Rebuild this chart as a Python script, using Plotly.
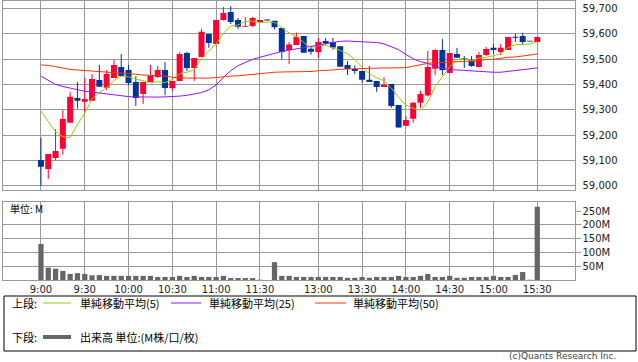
import plotly.graph_objects as go

W, H = 638, 362

times = ["9:00","9:05","9:10","9:15","9:20","9:25","9:30","9:35","9:40","9:45","9:50","9:55",
         "10:00","10:05","10:10","10:15","10:20","10:25","10:30","10:35","10:40","10:45","10:50","10:55",
         "11:00","11:05","11:10","11:15","11:20","11:25","11:30","12:25",
         "12:30","12:35","12:40","12:45","12:50","12:55","13:00","13:05","13:10","13:15","13:20","13:25",
         "13:30","13:35","13:40","13:45","13:50","13:55","14:00","14:05","14:10","14:15","14:20","14:25",
         "14:30","14:35","14:40","14:45","14:50","14:55","15:00","15:05","15:10","15:15","15:20","15:25","15:30"]

tick_labels = ["9:00","9:30","10:00","10:30","11:00","11:30","13:00","13:30","14:00","14:30","15:00","15:30"]

opens = [59102,59067,59110,59147,59249,59347,59332,59336,59417,59387,59425,59469,
         59457,59410,59362,59410,59429,59457,59386,59414,59524,59465,59508,59599,
         59559,59654,59685,59654,59627,59630,59646,59656,
         59651,59622,59536,59555,59591,59541,59528,59571,59567,59550,59477,59461,
         59453,59418,59414,59390,59402,59319,59237,59265,59328,59356,59462,59536,
         59445,59520,59504,59496,59469,59516,59544,59528,59536,59588,59591,59571,59567]
highs = [59190,59126,59224,59299,59370,59410,59425,59441,59477,59457,59496,59520,
         59477,59433,59410,59477,59473,59488,59414,59528,59528,59504,59618,59599,
         59654,59705,59709,59662,59666,59666,59654,59656,
         59651,59622,59567,59604,59591,59551,59583,59583,59583,59550,59492,59475,
         59453,59473,59414,59429,59402,59319,59276,59331,59375,59532,59540,59579,
         59524,59544,59512,59512,59528,59548,59559,59559,59587,59599,59603,59571,59587]
lows = [59001,59028,59102,59123,59249,59305,59293,59336,59391,59378,59425,59433,
        59397,59315,59323,59410,59425,59358,59374,59414,59453,59414,59508,59544,
        59559,59651,59638,59618,59627,59627,59646,59652,
        59617,59499,59480,59555,59525,59517,59505,59557,59537,59470,59437,59441,
        59407,59410,59371,59390,59308,59230,59237,59249,59308,59352,59437,59437,
        59445,59505,59465,59469,59469,59512,59520,59516,59536,59567,59555,59569,59567]
closes = [59076,59126,59138,59264,59351,59336,59343,59421,59391,59441,59477,59433,
          59406,59347,59410,59433,59457,59386,59414,59520,59465,59504,59607,59563,
          59654,59681,59646,59627,59630,59662,59654,59652,
          59625,59528,59557,59588,59525,59529,59567,59561,59545,59470,59461,59453,
          59418,59410,59390,59398,59315,59230,59260,59328,59362,59469,59536,59457,
          59524,59505,59500,59473,59516,59540,59536,59544,59587,59584,59567,59569,59587]

ma5 = [59295,59255,59214,59194,59191,59243,59286,59343,59368,59386,59415,59433,
       59430,59421,59415,59406,59411,59407,59420,59442,59448,59458,59502,59532,
       59559,59602,59630,59634,59648,59649,59644,59645,
       59645,59624,59603,59590,59565,59545,59553,59554,59545,59534,59521,59498,
       59469,59442,59426,59414,59386,59349,59319,59306,59299,59330,59391,59430,
       59470,59498,59504,59492,59504,59507,59513,59522,59545,59557,59558,59559,59568]
ma25 = [59433,59415,59400,59392,59385,59378,59373,59370,59366,59362,59358,59355,
        59352,59351,59350,59350,59350,59351,59352,59354,59357,59362,59368,59379,
        59398,59428,59454,59474,59488,59499,59507,59515,
        59523,59530,59535,59540,59543,59549,59555,59561,59566,59570,59571,59569,
        59567,59566,59565,59560,59550,59537,59518,59501,59490,59483,59471,59463,
        59458,59457,59455,59452,59450,59448,59448,59448,59451,59454,59457,59460,59465]
ma50 = [59477,59475,59470,59463,59459,59457,59455,59453,59451,59450,59449,59447,
        59444,59440,59437,59436,59436,59433,59428,59426,59425,59425,59424,59425,
        59427,59431,59433,59434,59437,59441,59444,59446,
        59448,59449,59449,59449,59450,59451,59454,59455,59457,59460,59461,59462,
        59463,59465,59465,59465,59465,59465,59466,59472,59477,59483,59485,59487,
        59488,59490,59491,59491,59495,59498,59499,59503,59507,59508,59511,59516,59520]

volume_m = [131,45,41,33,22,25,22,17,18,15,15,15,
            15,15,15,15,11,11,11,15,11,15,11,11,
            11,15,7,7,7,7,1,None,
            65,15,15,11,11,11,11,11,11,11,8,8,
            11,8,11,11,11,15,11,11,15,22,11,11,
            15,8,8,11,11,11,15,11,11,18,29,1,266]

vol_ticks = [50, 100, 150, 200, 250]
vol_ticktext = ["50M", "100M", "150M", "200M", "250M"]
price_ticks = [59000, 59100, 59200, 59300, 59400, 59500, 59600, 59700]

RED = "#ff0033"
BLUE = "#003399"
GRID = "#999999"
FONT = "DejaVu Sans"
JFONT = "Noto Sans CJK JP"


def px(x):
    return x / W


def py(y):
    return 1 - y / H


up = [c >= o for o, c in zip(opens, closes)]
colors = [RED if u else BLUE for u in up]

fig = go.Figure()

# wicks
for flag, col in ((True, RED), (False, BLUE)):
    wx, wy = [], []
    for t, h, l, u in zip(times, highs, lows, up):
        if u == flag:
            wx += [t, t, None]
            wy += [l, h, None]
    fig.add_trace(go.Scatter(x=wx, y=wy, mode="lines", line=dict(color=col, width=1),
                             hoverinfo="skip", showlegend=False, xaxis="x", yaxis="y"))

# bodies
fig.add_trace(go.Bar(
    x=times,
    y=[max(abs(c - o), 3) for o, c in zip(opens, closes)],
    base=[min(o, c) for o, c in zip(opens, closes)],
    marker=dict(color=colors, line=dict(width=0)),
    width=0.82, showlegend=False, xaxis="x", yaxis="y"))

for vals, col in ((ma5, "#99cc00"), (ma25, "#9911ff"), (ma50, "#ff3300")):
    fig.add_trace(go.Scatter(x=times, y=vals, mode="lines", line=dict(color=col, width=1),
                             showlegend=False, xaxis="x", yaxis="y"))

fig.add_trace(go.Bar(x=times, y=volume_m, marker=dict(color="#666666", line=dict(width=0)),
                     width=0.72, showlegend=False, xaxis="x2", yaxis="y2"))

xdom = [px(3), px(574.5)]
xrange = [-5.2, 73.1]
common_x = dict(domain=xdom, type="category", categoryorder="array", categoryarray=times,
                range=xrange, tickmode="array", tickvals=tick_labels, ticktext=tick_labels,
                showgrid=True, gridcolor=GRID, gridwidth=1, showline=True, mirror=True,
                linecolor=GRID, linewidth=1, zeroline=False, ticks="",
                automargin=False, fixedrange=True)

fig.update_layout(
    width=W, height=H, margin=dict(l=0, r=0, t=0, b=0),
    paper_bgcolor="white", plot_bgcolor="white", barmode="overlay",
    showlegend=False, font=dict(family=FONT, size=10, color="#222222"),
    xaxis=dict(common_x, anchor="y", showticklabels=False),
    yaxis=dict(domain=[py(190), py(1)], range=[58984.2, 59728.6], side="right",
               tickmode="array", tickvals=price_ticks,
               tickformat=",d", showgrid=True, gridcolor=GRID, gridwidth=1, showline=True,
               mirror=True, linecolor=GRID, zeroline=False, ticks="outside", ticklen=5,
               tickcolor="white", automargin=False, anchor="x",
               tickfont=dict(family=FONT, size=10, color="#222222")),
    xaxis2=dict(common_x, anchor="y2", showticklabels=True,
                tickfont=dict(family=FONT, size=10, color="#222222")),
    yaxis2=dict(domain=[py(280), py(202)], range=[0, 283.6], side="right",
                tickmode="array", tickvals=vol_ticks, ticktext=vol_ticktext,
                showgrid=False, showline=True, mirror=True, linecolor=GRID, zeroline=False,
                ticks="outside", ticklen=5, tickcolor=GRID, automargin=False, anchor="x2",
                tickfont=dict(family=FONT, size=10, color="#222222"),
                minor=dict(tickmode="array", tickvals=[50, 100, 150, 200], showgrid=True,
                           gridcolor=GRID, gridwidth=1, ticks="")),
)

# legend box and contents
shapes = [dict(type="rect", xref="paper", yref="paper", x0=px(4), x1=px(636), y0=py(351), y1=py(296),
               line=dict(color="#000000", width=1), fillcolor="rgba(0,0,0,0)")]
leg_lines = [(43, 71, 303, "#99cc00", 1), (171, 201, 303, "#9911ff", 1),
             (315, 346, 303, "#ff3300", 1), (43, 71, 337, "#666666", 4)]
for x0, x1, yy, col, lw in leg_lines:
    shapes.append(dict(type="line", xref="paper", yref="paper", x0=px(x0), x1=px(x1),
                       y0=py(yy), y1=py(yy), line=dict(color=col, width=lw)))
fig.update_layout(shapes=shapes)

texts = [(10, 303, "上段:"), (78, 303, "単純移動平均(5)"), (207, 303, "単純移動平均(25)"),
         (351, 303, "単純移動平均(50)"), (10, 337, "下段:"), (78, 337, "出来高 単位:(M株/口/枚)")]
for x, y, t in texts:
    fig.add_annotation(x=px(x), y=py(y), xref="paper", yref="paper", text=t, showarrow=False,
                       xanchor="left", yanchor="middle",
                       font=dict(family=JFONT, size=11, color="#000000"))

fig.add_annotation(x=px(8), y=py(208), xref="paper", yref="paper", text="単位: M", showarrow=False,
                   xanchor="left", yanchor="middle", font=dict(family=JFONT, size=10, color="#000000"))
fig.add_annotation(x=px(618), y=py(356), xref="paper", yref="paper", text="(c)Quants Research Inc.",
                   showarrow=False, xanchor="right", yanchor="middle",
                   font=dict(family=FONT, size=9, color="#444444"))

fig.write_html("out.html", config={"displayModeBar": False, "staticPlot": True},
               post_script="document.body.style.margin='0';document.body.style.overflow='hidden';")
